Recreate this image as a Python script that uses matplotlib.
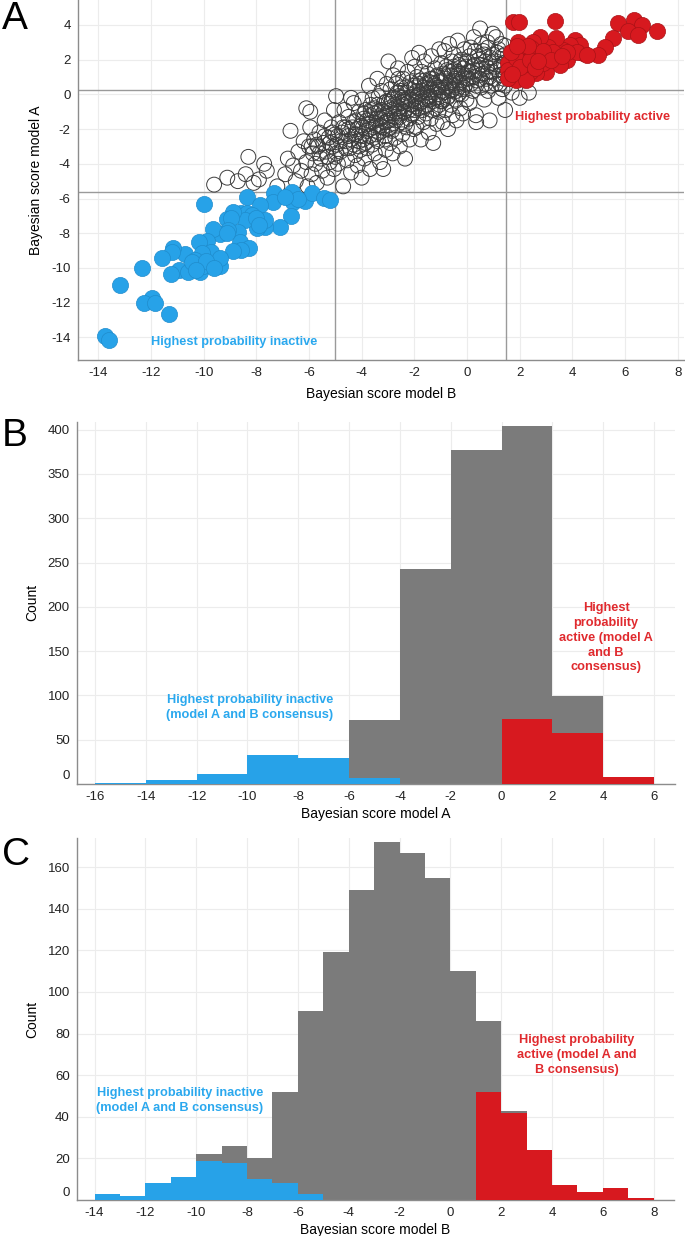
import matplotlib
matplotlib.use('Agg')
import matplotlib.pyplot as plt
from matplotlib.transforms import ScaledTranslation

plt.rcParams['font.family'] = ['Liberation Sans', 'DejaVu Sans']
plt.rcParams['axes.unicode_minus'] = False

# ---- panel A: scatter of model B score (x) vs model A score (y) ----
gray_x = [
    -9.6, -9.1, -8.7, -8.4, -8.3, -8.1, -7.9, -7.7, -7.6, -7.2,
    -6.9, -6.8, -6.7, -6.6, -6.5, -6.4, -6.3, -6.2, -6.1, -6.05, -6.0, -6.1,
    -5.95, -5.95, -5.9, -5.85, -5.8, -5.75, -5.7, -5.65, -5.6, -5.55, -5.5, -5.45,
    -5.4, -5.35, -5.3, -5.25, -5.2, -5.15, -5.1, -5.05, -5.0, -5.0, -5.05,
    -4.97, -4.95, -4.9, -4.85, -4.8, -4.75, -4.7, -4.65, -4.6, -4.55, -4.5, -4.5,
    -4.45, -4.4, -4.35, -4.3, -4.3, -4.25, -4.2, -4.2, -4.15, -4.1, -4.1, -4.05,
    -4.0, -4.0, -4.6, -4.9, -4.4, -4.15,
    -3.98, -3.95, -3.92, -3.9, -3.85, -3.82, -3.8, -3.75, -3.72, -3.7, -3.68, -3.65,
    -3.6, -3.58, -3.55, -3.5, -3.5, -3.45, -3.42, -3.4, -3.38, -3.35, -3.3, -3.28,
    -3.25, -3.22, -3.2, -3.18, -3.15, -3.12, -3.1, -3.08, -3.05, -3.03, -3.0, -3.65, -3.35,
    -2.98, -2.96, -2.94, -2.92, -2.9, -2.88, -2.85, -2.82, -2.8, -2.78, -2.75, -2.72,
    -2.7, -2.68, -2.65, -2.62, -2.6, -2.58, -2.55, -2.52, -2.5, -2.48, -2.45, -2.42,
    -2.4, -2.38, -2.35, -2.32, -2.3, -2.28, -2.25, -2.22, -2.2, -2.18, -2.15, -2.12,
    -2.1, -2.08, -2.05, -2.03, -2.0, -2.6, -2.35,
    -1.98, -1.96, -1.94, -1.92, -1.9, -1.88, -1.85, -1.82, -1.8, -1.78, -1.75, -1.72,
    -1.7, -1.68, -1.65, -1.62, -1.6, -1.58, -1.55, -1.52, -1.5, -1.48, -1.45, -1.42,
    -1.4, -1.38, -1.35, -1.32, -1.3, -1.28, -1.25, -1.22, -1.2, -1.18, -1.15, -1.12,
    -1.1, -1.08, -1.05, -1.03, -1.0, -1.5,
    -0.98, -0.96, -0.94, -0.92, -0.9, -0.88, -0.85, -0.82, -0.8, -0.78, -0.75, -0.72,
    -0.7, -0.68, -0.65, -0.62, -0.6, -0.58, -0.55, -0.52, -0.5, -0.48, -0.45, -0.42,
    -0.4, -0.38, -0.35, -0.32, -0.3, -0.28, -0.25, -0.22, -0.2, -0.18, -0.15, -0.12,
    -0.1, -0.05, -0.02,
    0.02, 0.06, 0.1, 0.14, 0.18, 0.22, 0.26, 0.3, 0.34, 0.38, 0.42, 0.46, 0.5, 0.54,
    0.58, 0.62, 0.66, 0.7, 0.74, 0.78, 0.82, 0.86, 0.9, 0.94, 0.98, 0.35, 0.55, 0.8,
    1.05, 1.1, 1.15, 1.2, 1.25, 1.3, 1.35, 1.4, 1.45, 1.7, 2.0, 2.35, 1.1, 1.45, 1.4,
]
gray_y = [
    -5.2, -4.8, -5.0, -4.6, -3.6, -5.1, -4.9, -4.0, -4.4, -5.3,
    -4.6, -3.7, -2.1, -4.1, -5.0, -3.3, -4.4, -2.7, -3.9, -5.3, -3.0, -0.8,
    -1.9, -1.0, -4.6, -3.4, -2.6, -4.0, -5.1, -3.0, -2.2, -3.7, -4.4, -2.8,
    -1.5, -3.3, -4.8, -2.5, -3.9, -1.9, -3.0, -4.3, -2.3, -3.6, -0.9,
    -0.1, -2.9, -4.0, -1.6, -3.3, -2.2, -5.3, -0.9, -2.7, -3.8, -1.3, -2.4,
    -3.1, -4.5, -1.9, -0.5, -2.9, -3.5, -1.5, -2.3, -4.1, -1.0, -2.7, -3.2,
    -1.8, -4.8, -1.9, -2.4, -0.2, -2.0,
    -0.3, -2.6, -1.4, -3.7, -0.9, -2.1, -3.1, -1.7, 0.5, -2.4, -4.3, -1.2,
    -2.9, -0.2, -1.9, -3.4, -0.8, -2.3, -1.4, 0.9, -2.7, -1.0, -3.9, -1.8,
    0.2, -2.1, -1.3, -4.3, -0.5, -2.6, -1.6, -3.2, 0.6, -1.1, -2.0, -0.6, -0.1,
    1.9, -0.4, -1.5, -2.8, 0.3, -0.9, -2.1, -3.4, 1.1, -0.2, -1.3, -2.5,
    0.6, -0.7, -1.8, 1.5, -0.1, -1.1, -3.0, 0.2, -0.5, -1.6, -2.3, 0.9,
    -0.3, -1.0, -3.7, 0.4, -0.8, -1.9, 1.3, -0.2, -1.4, -2.6, 0.7, -0.6,
    -1.2, 2.1, 0.0, -2.0, -0.9, 0.9, -0.4,
    1.6, 0.4, -0.7, -1.9, 1.0, -0.1, -1.3, 2.4, 0.6, -0.5, -2.6, 1.3,
    0.2, -0.9, -1.6, 1.9, 0.8, -0.3, -1.1, 0.3, 1.2, -0.6, -2.2, 0.7,
    -0.1, -1.4, 2.2, 0.9, -0.4, -2.8, 0.1, 1.5, -0.8, 0.5, -1.7, 1.1,
    0.0, -1.0, 2.6, 0.4, -0.4, -0.2,
    1.8, 0.7, -0.4, -1.6, 1.2, 0.1, 2.5, -0.9, 0.9, 1.6, -0.2, -2.0,
    0.5, 2.9, 1.3, -0.6, 0.2, 1.9, -1.2, 0.8, 2.3, 1.4, -0.3, 0.4,
    -1.5, 1.1, 3.1, 0.0, 1.7, 0.7, -0.8, 2.0, 1.2, 0.3, -1.1, 1.5,
    2.6, 0.6, -0.3,
    1.9, 0.9, -0.5, 2.7, 1.3, 0.2, 3.3, 1.7, -1.2, 0.8, 2.2, 1.1, 3.8, 0.4,
    1.5, 2.5, -0.3, 1.9, 0.9, 3.0, 1.3, -1.5, 2.1, 0.5, 3.5, -1.6, 2.9, 0.2,
    1.6, 0.6, 2.4, -0.2, 1.1, 2.9, 0.3, 1.8, -0.9, 0.1, -0.2, 0.1, 3.3, 2.3, 0.9,
]

# denser core of the cloud along the diagonal
core_x = [
    -5.9, -5.7, -5.6, -5.4, -5.3, -5.2, -5.1, -4.95, -4.8, -4.7, -4.6, -4.5,
    -4.4, -4.3, -4.25, -4.1, -4.0, -3.95, -3.9, -3.85, -3.8, -3.7, -3.65, -3.6,
    -3.55, -3.5, -3.45, -3.4, -3.35, -3.3, -3.25, -3.2, -3.15, -3.1, -3.05, -3.0,
    -2.95, -2.9, -2.85, -2.8, -2.75, -2.7, -2.65, -2.6, -2.55, -2.5, -2.45, -2.4,
    -2.35, -2.3, -2.25, -2.2, -2.15, -2.1, -2.05, -2.0, -1.95, -1.9, -1.85, -1.8,
    -1.75, -1.7, -1.65, -1.6, -1.55, -1.5, -1.45, -1.4, -1.35, -1.3, -1.25, -1.2,
    -1.15, -1.1, -1.05, -1.0, -0.95, -0.9, -0.85, -0.8, -0.75, -0.7, -0.65, -0.6,
    -0.55, -0.5, -0.45, -0.4, -0.35, -0.3, -0.25, -0.2, -0.15, -0.1, -0.05, 0.0,
    0.05, 0.1, 0.15, 0.2, 0.25, 0.3, 0.35, 0.4, 0.45, 0.5, 0.55, 0.6,
    0.65, 0.7, 0.75, 0.8, 0.85, 0.9, 0.95, 1.0, 1.05, 1.1, 1.15, 1.2,
    1.25, 1.3, 1.35, 1.4, 1.45, 1.45,
]
core_y = [
    -3.0, -2.9, -3.4, -2.4, -3.6, -2.8, -2.2, -3.4, -2.7, -1.9, -3.1, -2.0,
    -2.6, -1.6, -2.3, -3.0, -2.4, -1.9, -1.1, -2.8, -1.5, -2.0, -0.9, -1.6,
    -2.5, -1.1, -1.8, -0.6, -2.2, -1.4, -0.9, -1.9, -1.0, -2.4, -0.4, -1.5,
    -0.8, -1.9, -0.3, -1.1, -0.6, -1.5, 0.1, -0.8, -1.3, 0.4, -0.2, -1.0,
    -1.7, 0.1, -0.5, -0.9, 0.3, -0.3, -1.1, 0.5, -0.4, 0.2, -0.8, 0.0,
    0.8, -0.4, 0.4, -0.7, 0.6, 0.1, -0.3, 0.9, 0.3, -0.9, 0.6, -0.2,
    1.0, 0.4, -0.6, 0.8, 0.2, -0.3, 1.1, 0.4, 1.4, -0.1, 0.7, 1.1,
    0.3, 1.6, 0.9, 0.2, 1.3, 0.6, 1.9, 0.0, 1.0, 0.4, 1.6, 0.9,
    1.3, 2.2, 0.6, 1.6, 1.0, 2.5, 0.5, 1.4, 2.0, 0.9, 1.7, 1.2,
    2.3, 0.6, 1.6, 2.7, 1.0, 1.8, 1.3, 2.3, 0.9, 1.9, 1.4, 2.6,
    0.6, 1.7, 2.2, 1.2, 2.8, 0.5,
]

blue_x = [
    -10.0, -8.34, -7.32, -6.66, -7.36, -6.62, -6.15, -5.9, -5.42, -5.2,
    -7.86, -6.68, -7.1, -7.67, -7.96, -8.56, -8.34, -8.18, -8.43, -7.67,
    -8.87, -9.12, -8.94, -8.68, -9.06, -9.38, -9.66, -9.88, -10.17, -8.62,
    -8.27, -8.56, -8.87, -9.72, -10.07, -10.71, -11.15, -11.19, -11.59, -10.92,
    -11.24, -10.58, -10.14, -10.01, -9.66, -9.38, -9.38, -10.33, -10.45, -12.35,
    -13.18, -11.97, -12.25, -11.85, -11.32, -13.75, -13.59,
    -9.9, -9.6, -10.3, -9.1, -6.4, -6.9, -8.0, -7.9,
]
blue_y = [
    -6.32, -5.93, -5.67, -5.61, -6.18, -6.18, -6.13, -5.67, -5.99, -6.09,
    -6.37, -6.99, -7.66, -7.62, -7.72, -6.85, -6.85, -6.95, -7.24, -7.24,
    -6.76, -7.2, -7.14, -7.91, -7.82, -8.05, -7.78, -8.45, -8.49, -8.49,
    -8.87, -8.97, -9.03, -9.07, -9.16, -9.2, -8.87, -9.07, -9.45, -10.12,
    -10.37, -10.22, -10.22, -9.89, -9.83, -9.89, -9.45, -9.54, -9.64, -10.02,
    -10.99, -11.75, -12.0, -12.0, -12.66, -13.93, -14.16,
    -9.6, -10.0, -10.1, -8.0, -6.0, -5.9, -7.1, -7.5,
]

red_x = [
    1.76, 1.98, 3.34, 5.74, 6.34, 6.63, 6.12, 6.5, 7.2, 5.55,
    5.24, 4.98, 4.41, 4.1, 4.29, 3.91, 3.65, 3.4, 3.08, 2.77,
    2.51, 1.95, 2.01, 2.39, 2.77, 3.15, 3.4, 3.78, 3.53, 3.02,
    2.64, 2.39, 2.14, 1.76, 1.57, 1.63, 1.88, 2.26, 2.64, 3.27,
    2.89, 1.55, 1.55, 2.14, 4.16, 3.78, 4.54, 1.88, 2.45, 1.69,
    2.0, 2.4, 2.9, 3.2, 2.6, 1.7, 2.3, 3.6, 1.9, 2.7,
]
red_y = [
    4.19, 4.19, 4.25, 4.1, 4.29, 4.0, 3.65, 3.42, 3.65, 3.23,
    2.75, 2.27, 2.37, 3.14, 2.85, 2.85, 2.56, 3.23, 2.75, 3.33,
    3.04, 3.04, 2.46, 2.27, 2.27, 2.17, 2.08, 1.98, 1.69, 1.31,
    1.22, 1.31, 1.31, 1.6, 1.79, 0.93, 0.83, 0.83, 1.69, 2.46,
    1.79, 1.41, 0.93, 1.88, 2.46, 2.46, 2.27, 2.08, 2.66, 2.46,
    1.6, 2.0, 2.5, 2.0, 1.5, 1.2, 2.8, 2.2, 2.8, 1.9,
]

cut_a = [-5.61, 0.25]   # model A thresholds (horizontal lines)
cut_b = [-5.0, 1.48]    # model B thresholds (vertical lines)

# ---- panel B: histogram of model A score, bin width 2 ----
edges_b = [-16, -14, -12, -10, -8, -6, -4, -2, 0, 2, 4]
all_b = [1.5, 5, 11, 33, 29, 72, 243, 377, 404, 99, 8]
inactive_b = [1.5, 5, 11, 33, 29, 7, 0, 0, 0, 0, 0]
active_b = [0, 0, 0, 0, 0, 0, 0, 0, 73, 58, 8]

# ---- panel C: histogram of model B score, bin width 1 ----
edges_c = [-14, -13, -12, -11, -10, -9, -8, -7, -6, -5, -4, -3, -2, -1, 0, 1, 2, 3, 4, 5, 6, 7]
all_c = [3, 2, 8, 11, 22, 26, 20, 52, 91, 119, 149, 172, 167, 155, 110, 86, 43, 24, 7, 4, 6, 1]
inactive_c = [3, 2, 8, 11, 19, 18, 10, 8, 3, 0, 0, 0, 0, 0, 0, 0, 0, 0, 0, 0, 0, 0]
active_c = [0, 0, 0, 0, 0, 0, 0, 0, 0, 0, 0, 0, 0, 0, 0, 52, 42, 24, 7, 4, 6, 1]

BLUE = '#27a2e8'
RED = '#d7191f'
GRAY = '#7b7b7b'
BLUE_TXT = '#2aa8ee'
RED_TXT = '#e02a2e'


def style_axes(ax):
    # 只保留左、下坐标轴，浅灰网格
    for side in ['top', 'right']:
        ax.spines[side].set_visible(False)
    for side in ['left', 'bottom']:
        ax.spines[side].set_color('#8c8c8c')
        ax.spines[side].set_linewidth(1.0)
    ax.grid(True, color='#ececec', linewidth=0.8)
    ax.set_axisbelow(True)
    ax.tick_params(length=0, labelsize=9.5, pad=5, colors='#222222')


def raise_zero_label(fig, ax):
    # y 轴 "0" 标签稍微上移
    lab = ax.get_yticklabels()[0]
    lab.set_transform(lab.get_transform() + ScaledTranslation(0, 9 / 100, fig.dpi_scale_trans))


fig = plt.figure(figsize=(6.85, 12.36), dpi=100)

# Panel A
ax_a = fig.add_axes([0.1134, 0.7087, 0.8851, 0.2913])
style_axes(ax_a)
ax_a.scatter(gray_x + core_x, gray_y + core_y, s=115, facecolors='none', edgecolors='#3c3c3c',
             linewidths=0.7, zorder=2)
ax_a.scatter(blue_x, blue_y, s=135, color=BLUE, edgecolors='#1f8ccc', linewidths=0.5, zorder=3)
ax_a.scatter(red_x, red_y, s=135, color=RED, edgecolors='#a81216', linewidths=0.5, zorder=3)
for v in cut_a:
    ax_a.axhline(v, color='#9a9a9a', linewidth=1.0, zorder=1)
for v in cut_b:
    ax_a.axvline(v, color='#9a9a9a', linewidth=1.0, zorder=1)
ax_a.set_xlim(-14.78, 8.24)
ax_a.set_ylim(-15.31, 5.44)
ax_a.set_xticks(range(-14, 9, 2))
ax_a.set_yticks(range(-14, 5, 2))
ax_a.set_xlabel('Bayesian score model B', fontsize=10, labelpad=6)
ax_a.set_ylabel('Bayesian score model A', fontsize=10, labelpad=6)
ax_a.text(4.77, -1.29, 'Highest probability active', color=RED_TXT, fontsize=9.2,
          fontweight='bold', ha='center', va='center')
ax_a.text(-8.84, -14.29, 'Highest probability inactive', color=BLUE_TXT, fontsize=9.2,
          fontweight='bold', ha='center', va='center')

# Panel B
ax_b = fig.add_axes([0.112, 0.3657, 0.8735, 0.2931])
style_axes(ax_b)
ax_b.bar(edges_b, all_b, width=2, align='edge', color=GRAY, linewidth=0, zorder=2)
ax_b.bar(edges_b, inactive_b, width=2, align='edge', color=BLUE, linewidth=0, zorder=3)
ax_b.bar(edges_b, active_b, width=2, align='edge', color=RED, linewidth=0, zorder=3)
ax_b.set_xlim(-16.72, 6.83)
ax_b.set_ylim(0, 409)
ax_b.set_xticks(range(-16, 7, 2))
ax_b.set_yticks(range(0, 401, 50))
ax_b.set_yticklabels([str(v) for v in range(0, 401, 50)])
ax_b.set_xlabel('Bayesian score model A', fontsize=10, labelpad=3)
ax_b.set_ylabel('Count', fontsize=10, labelpad=6)
ax_b.text(-9.9, 86, 'Highest probability inactive\n(model A and B consensus)', color=BLUE_TXT,
          fontsize=9.2, fontweight='bold', ha='center', va='center', linespacing=1.3)
ax_b.text(4.12, 165, 'Highest\nprobability\nactive (model A\nand B\nconsensus)', color=RED_TXT,
          fontsize=9.2, fontweight='bold', ha='center', va='center', linespacing=1.3)
raise_zero_label(fig, ax_b)

# Panel C
ax_c = fig.add_axes([0.112, 0.0291, 0.872, 0.2929])
style_axes(ax_c)
ax_c.bar(edges_c, all_c, width=1, align='edge', color=GRAY, linewidth=0, zorder=2)
ax_c.bar(edges_c, inactive_c, width=1, align='edge', color=BLUE, linewidth=0, zorder=3)
ax_c.bar(edges_c, active_c, width=1, align='edge', color=RED, linewidth=0, zorder=3)
ax_c.set_xlim(-14.7, 8.8)
ax_c.set_ylim(0, 174)
ax_c.set_xticks(range(-14, 9, 2))
ax_c.set_yticks(range(0, 161, 20))
ax_c.set_yticklabels([str(v) for v in range(0, 161, 20)])
ax_c.set_xlabel('Bayesian score model B', fontsize=10, labelpad=3)
ax_c.set_ylabel('Count', fontsize=10, labelpad=6)
ax_c.text(-10.64, 48, 'Highest probability inactive\n(model A and B consensus)', color=BLUE_TXT,
          fontsize=9.2, fontweight='bold', ha='center', va='center', linespacing=1.3)
ax_c.text(4.96, 69.7, 'Highest probability\nactive (model A and\nB consensus)', color=RED_TXT,
          fontsize=9.2, fontweight='bold', ha='center', va='center', linespacing=1.3)
raise_zero_label(fig, ax_c)

# 面板字母
fig.text(0.003, 0.9995, 'A', fontsize=28, ha='left', va='top')
fig.text(0.003, 0.6615, 'B', fontsize=28, ha='left', va='top')
fig.text(0.003, 0.3225, 'C', fontsize=28, ha='left', va='top')

plt.savefig('out.png', dpi=100)
plt.close()
